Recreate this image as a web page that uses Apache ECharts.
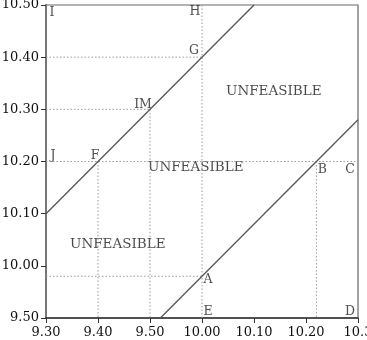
<!DOCTYPE html>
<html><head><meta charset="utf-8">
<script src="https://cdn.jsdelivr.net/npm/echarts@6/dist/echarts.min.js"></script>
<style>html,body{margin:0;padding:0;background:#fff}#c{width:367px;height:340px}</style>
</head><body><div id="c"></div>
<script>
// tick labels (axis is evenly spaced; labels as printed)
var xTickLabels = ['9.30','9.40','9.50','10.00','10.10','10.20','10.3'];
var yTickLabels = ['9.50','10.00','10.10','10.20','10.30','10.40','10.50'];
var xMin = 9.7, xMax = 10.3, yMin = 9.9, yMax = 10.5, step = 0.1;

// constraint lines
var upperLine = [[9.70, 10.10], [10.10, 10.50]];
var lowerLine = [[9.92, 9.90], [10.30, 10.28]];

// dotted guide segments
var guides = [
  [[9.70, 10.40], [10.00, 10.40]],
  [[9.70, 10.30], [9.90, 10.30]],
  [[9.70, 10.20], [10.30, 10.20]],
  [[9.70, 9.98], [10.00, 9.98]],
  [[9.80, 10.20], [9.80, 9.90]],
  [[9.90, 10.30], [9.90, 9.90]],
  [[10.00, 10.50], [10.00, 9.90]],
  [[10.22, 10.20], [10.22, 9.90]]
];

// labelled points
var pointNames = ['I','H','G','IM','J','F','B','C','A','E','D'];
var pointX = [9.70, 10.00, 10.00, 9.90, 9.70, 9.80, 10.22, 10.30, 10.00, 10.00, 10.30];
var pointY = [10.50, 10.50, 10.40, 10.30, 10.20, 10.20, 10.20, 10.20, 9.98, 9.90, 9.90];

// region annotations
var regionText = ['UNFEASIBLE','UNFEASIBLE','UNFEASIBLE'];
var regionX = [10.138, 9.988, 9.838];
var regionY = [10.335, 10.188, 10.040];

// label offsets (styling)
var pointOffsets = {I:[6,8],H:[-7,7],G:[-8,-6],IM:[-7,-5],J:[7,-6],F:[-3,-6],B:[6,8],C:[-8,8],A:[6,3],E:[6,-6],D:[-8,-6]};

var font = '"DejaVu Serif", "Liberation Serif", serif';
var series = [];
guides.forEach(function(seg){
  series.push({type:'line', data:seg, symbol:'none', silent:true, animation:false,
    lineStyle:{color:'#9a9a9a', width:1, type:[1.5,2]}});
});
[upperLine, lowerLine].forEach(function(l){
  series.push({type:'line', data:l, symbol:'none', silent:true, animation:false,
    lineStyle:{color:'#555', width:1.3}});
});
series.push({type:'scatter', symbolSize:1, itemStyle:{color:'rgba(0,0,0,0)'}, animation:false,
  data: pointNames.map(function(n,i){
    return {value:[pointX[i], pointY[i]], label:{show:true, formatter:n, position:'inside', offset:pointOffsets[n],
      fontFamily:font, fontSize:12.5, color:'#222'}};
  })});
series.push({type:'scatter', symbolSize:1, itemStyle:{color:'rgba(0,0,0,0)'}, animation:false,
  data: regionText.map(function(t,i){
    return {value:[regionX[i], regionY[i]], label:{show:true, formatter:t, position:'inside',
      fontFamily:font, fontSize:13.5, color:'#1a1a1a'}};
  })});

var chart = echarts.init(document.getElementById('c'));
chart.setOption({
  animation:false,
  grid:{left:46, right:9, top:5, bottom:22, show:true, borderColor:'#666', borderWidth:1.2,
    containLabel:false, outerBoundsMode:'none'},
  xAxis:{type:'value', min:xMin, max:xMax, interval:step,
    axisLine:{lineStyle:{color:'#333', width:1.5}},
    axisTick:{show:true, length:5, lineStyle:{color:'#333'}},
    splitLine:{show:false},
    axisLabel:{fontFamily:font, fontSize:13, color:'#111', margin:8, showMaxLabel:true, hideOverlap:false,
      formatter:function(v){return xTickLabels[Math.round((v-xMin)/step)];}}},
  yAxis:{type:'value', min:yMin, max:yMax, interval:step,
    axisLine:{show:true, lineStyle:{color:'#777', width:2}},
    axisTick:{show:true, length:5, lineStyle:{color:'#333'}},
    splitLine:{show:false},
    axisLabel:{fontFamily:font, fontSize:13, color:'#111', margin:7,
      formatter:function(v){return yTickLabels[Math.round((v-yMin)/step)];}}},
  series:series
});
</script></body></html>
